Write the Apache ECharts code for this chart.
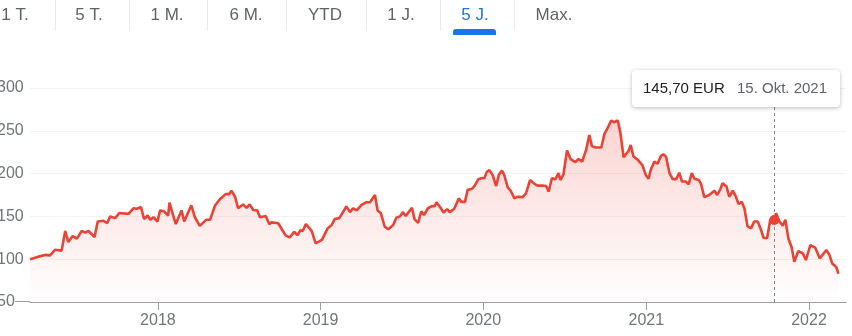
<!DOCTYPE html>
<html>
<head>
<meta charset="utf-8">
<script src="https://cdn.jsdelivr.net/npm/echarts@6/dist/echarts.min.js"></script>
<style>
html,body{margin:0;padding:0;background:#fff;}
#c{width:852px;height:336px;}
</style>
</head>
<body>
<div id="c"></div>
<script>
const tabs = ['1 T.', '5 T.', '1 M.', '6 M.', 'YTD', '1 J.', '5 J.', 'Max.'];
const activeTab = '5 J.';
const yearTicks = [2018, 2019, 2020, 2021, 2022];
const tipDate = '2021-10-15';
const tipPrice = 145.70;
const tipPriceText = '145,70 EUR';
const tipDateText = '15. Okt. 2021';

const dates2017 = ['2017-03-20','2017-04-08','2017-04-23','2017-05-04','2017-05-15','2017-05-30','2017-06-07','2017-06-14','2017-06-24','2017-07-03','2017-07-14','2017-07-22','2017-07-29','2017-08-12','2017-08-19','2017-09-01','2017-09-09','2017-09-16','2017-09-27','2017-10-07','2017-10-27','2017-11-07','2017-11-15','2017-11-24','2017-12-01','2017-12-09','2017-12-15','2017-12-22','2017-12-31'];
const prices2017 = [100,103,105,104.5,111,110,133,120,127,124,133,131,133,126,144,145,142,150,148,154,153,159.5,159,161,147,151,146,149,144];

const dates2018 = ['2018-01-06','2018-01-15','2018-01-24','2018-01-27','2018-02-10','2018-02-23','2018-03-01','2018-03-17','2018-03-25','2018-04-05','2018-04-19','2018-04-28','2018-05-09','2018-05-20','2018-06-02','2018-06-10','2018-06-15','2018-06-23','2018-06-30','2018-07-11','2018-07-19','2018-07-26','2018-08-03','2018-08-12','2018-08-18','2018-08-31','2018-09-08','2018-09-13','2018-09-28','2018-10-06','2018-10-15','2018-10-24','2018-11-03','2018-11-10','2018-11-17','2018-11-22','2018-11-29','2018-12-12','2018-12-21'];
const prices2018 = [157,156,151,166,141,157,144,163,149,139,146,146,162.5,170,176,176,180,173,159.5,164,160,164,157.5,157,149,150.5,141,143,142,135,127.5,125.5,132,128,134,133,141,133,118.5];

const dates2019 = ['2019-01-04','2019-01-17','2019-01-26','2019-02-02','2019-02-12','2019-02-28','2019-03-08','2019-03-15','2019-03-23','2019-04-03','2019-04-14','2019-04-22','2019-05-03','2019-05-09','2019-05-16','2019-05-25','2019-06-02','2019-06-13','2019-06-20','2019-06-28','2019-07-05','2019-07-11','2019-07-25','2019-07-31','2019-08-08','2019-08-15','2019-08-21','2019-08-30','2019-09-08','2019-09-14','2019-09-18','2019-09-28','2019-10-04','2019-10-12','2019-10-18','2019-10-28','2019-11-07','2019-11-13','2019-11-21','2019-11-27','2019-12-06','2019-12-13','2019-12-21','2019-12-28'];
const prices2019 = [122.5,136,140,147,148,161.5,155,159.5,157,163.5,166.5,166.5,175,157,154,138,135,140,148.5,150,155,150.5,160,146.5,142.5,156,151.5,159.5,162,162,166.5,159.5,154.5,158.5,155,159,171,167,167,181,182,186,193.5,194.5];

const dates2020 = ['2020-01-04','2020-01-09','2020-01-15','2020-01-22','2020-01-30','2020-02-05','2020-02-12','2020-02-17','2020-02-25','2020-03-03','2020-03-11','2020-03-18','2020-03-29','2020-04-06','2020-04-15','2020-04-25','2020-05-02','2020-05-13','2020-05-21','2020-05-27','2020-06-03','2020-06-11','2020-06-18','2020-06-22','2020-06-29','2020-07-07','2020-07-15','2020-07-26','2020-08-02','2020-08-10','2020-08-19','2020-08-26','2020-09-01','2020-09-10','2020-09-22','2020-09-29','2020-10-06','2020-10-14','2020-10-21','2020-10-29','2020-11-04','2020-11-11','2020-11-22','2020-11-27','2020-12-03','2020-12-13','2020-12-23','2020-12-31'];
const prices2020 = [195,202,204,198.5,185.5,198.5,203.5,198.5,184,179.7,171,173,172.5,177,192.5,188,186,186,185.5,179,194.5,193.5,200.5,192.5,199,227,217,213.5,217,214,228,245,232,230.5,230.5,246.5,253,262,260,262,247,219,226.5,233.5,220,216,210,198];

const dates2021 = ['2021-01-06','2021-01-11','2021-01-19','2021-01-26','2021-02-03','2021-02-08','2021-02-14','2021-02-22','2021-03-01','2021-03-09','2021-03-16','2021-03-22','2021-03-31','2021-04-06','2021-04-13','2021-04-19','2021-04-29','2021-05-04','2021-05-11','2021-05-22','2021-06-03','2021-06-09','2021-06-16','2021-06-21','2021-06-30','2021-07-06','2021-07-14','2021-07-21','2021-07-27','2021-08-03','2021-08-09','2021-08-16','2021-08-24','2021-08-31','2021-09-08','2021-09-15','2021-09-21','2021-09-29','2021-10-06','2021-10-15','2021-10-19','2021-10-26','2021-11-03','2021-11-09','2021-11-16','2021-11-23','2021-11-29','2021-12-08','2021-12-18','2021-12-25'];
const prices2021 = [194,204.5,214,211.5,220.7,222.5,220,200.5,193.5,193.5,201,190.7,190.7,187.5,200.5,194,192.5,187.5,172.5,175,180,175,181.7,188.8,184.8,173,180,173,164.5,167,159.5,138.5,136,144,144,135,125,124.5,146,145.7,153.7,144.7,139,146,123.5,114,97,109.5,107,99];

const dates2022 = ['2022-01-04','2022-01-15','2022-01-25','2022-01-31','2022-02-09','2022-02-16','2022-02-22','2022-03-03','2022-03-08'];
const prices2022 = [116.5,113.5,101,104.8,110.7,104.8,95,91,83];

const dates = [].concat(dates2017, dates2018, dates2019, dates2020, dates2021, dates2022);
const prices = [].concat(prices2017, prices2018, prices2019, prices2020, prices2021, prices2022);

const toTime = s => { const p = s.split('-').map(Number); return new Date(p[0], p[1] - 1, p[2]).getTime(); };
const seriesData = dates.map((d, i) => [toTime(d), prices[i]]);

const FONT = '"Liberation Sans", Arial, sans-serif';
const RED = '#ea4335';
const yearTickValues = yearTicks.map(y => new Date(y, 0, 1).getTime());

// tab bar layout
const tabCenters = [15, 89, 167, 246, 325, 401, 475, 554];
const sepX = [55, 129, 207, 286, 366, 440, 514];
const graphics = [];
tabs.forEach((t, i) => {
  graphics.push({
    type: 'text', x: tabCenters[i], y: 15.5, z: 10,
    style: { text: t, fill: t === activeTab ? '#1a73e8' : '#5f6368', font: '17px ' + FONT, textAlign: 'center', textVerticalAlign: 'middle' }
  });
});
sepX.forEach(x => {
  graphics.push({ type: 'line', z: 10, shape: { x1: x + 0.5, y1: 0, x2: x + 0.5, y2: 31 }, style: { stroke: '#e8eaed', lineWidth: 1 } });
});
graphics.push({ type: 'rect', z: 10, shape: { x: 453, y: 29, width: 43, height: 6, r: [3, 3, 0, 0] }, style: { fill: '#1a73e8' } });
graphics.push({ type: 'line', z: 10, shape: { x1: 15, y1: 301.5, x2: 30, y2: 301.5 }, style: { stroke: '#9aa0a6', lineWidth: 1 } });
graphics.push({
  type: 'rect', z: 20, shape: { x: 632, y: 70, width: 208, height: 37, r: 4 },
  style: { fill: '#fff', shadowColor: 'rgba(0,0,0,0.28)', shadowBlur: 4, shadowOffsetY: 1 }
});
graphics.push({ type: 'text', z: 21, x: 643, y: 89, style: { text: tipPriceText, fill: '#202124', font: '15px ' + FONT, textVerticalAlign: 'middle' } });
graphics.push({ type: 'text', z: 21, x: 737, y: 89, style: { text: tipDateText, fill: '#5f6368', font: '15px ' + FONT, textVerticalAlign: 'middle' } });

const chart = echarts.init(document.getElementById('c'), null, { renderer: 'canvas' });
chart.setOption({
  animation: false,
  grid: { left: 30, right: 6, top: 88, bottom: 34, containLabel: false, outerBoundsMode: 'none' },
  xAxis: {
    type: 'value',
    min: toTime('2017-03-20'),
    max: toTime('2022-03-25'),
    splitLine: { show: false },
    axisLine: { lineStyle: { color: '#9aa0a6', width: 1 } },
    axisTick: { show: true, customValues: yearTickValues, length: 8, lineStyle: { color: '#9aa0a6' } },
    axisLabel: {
      customValues: yearTickValues,
      formatter: v => String(new Date(v).getFullYear()),
      color: '#70757a', fontSize: 16, fontFamily: FONT, margin: 11
    }
  },
  yAxis: {
    type: 'value', min: 50, max: 300, interval: 50,
    axisLine: { show: false }, axisTick: { show: false },
    splitLine: { lineStyle: { color: '#f1f3f4', width: 1 } },
    axisLabel: { color: '#70757a', fontSize: 16, fontFamily: FONT, align: 'left', margin: 33 }
  },
  series: [{
    type: 'line',
    data: seriesData,
    showSymbol: false,
    symbol: 'none',
    lineStyle: { color: RED, width: 2.6 },
    itemStyle: { color: RED },
    areaStyle: {
      color: new echarts.graphic.LinearGradient(0, 0, 0, 1, [
        { offset: 0, color: 'rgba(234,67,53,0.32)' },
        { offset: 1, color: 'rgba(234,67,53,0)' }
      ])
    },
    markLine: {
      silent: true, symbol: 'none', label: { show: false },
      lineStyle: { color: '#80868b', type: [3, 3], width: 1 },
      data: [{ xAxis: toTime(tipDate) }]
    },
    markPoint: {
      silent: true, symbol: 'circle', symbolSize: 10, label: { show: false },
      itemStyle: { color: RED },
      data: [{ coord: [toTime(tipDate), tipPrice] }]
    }
  }],
  graphic: graphics
});
</script>
</body>
</html>
